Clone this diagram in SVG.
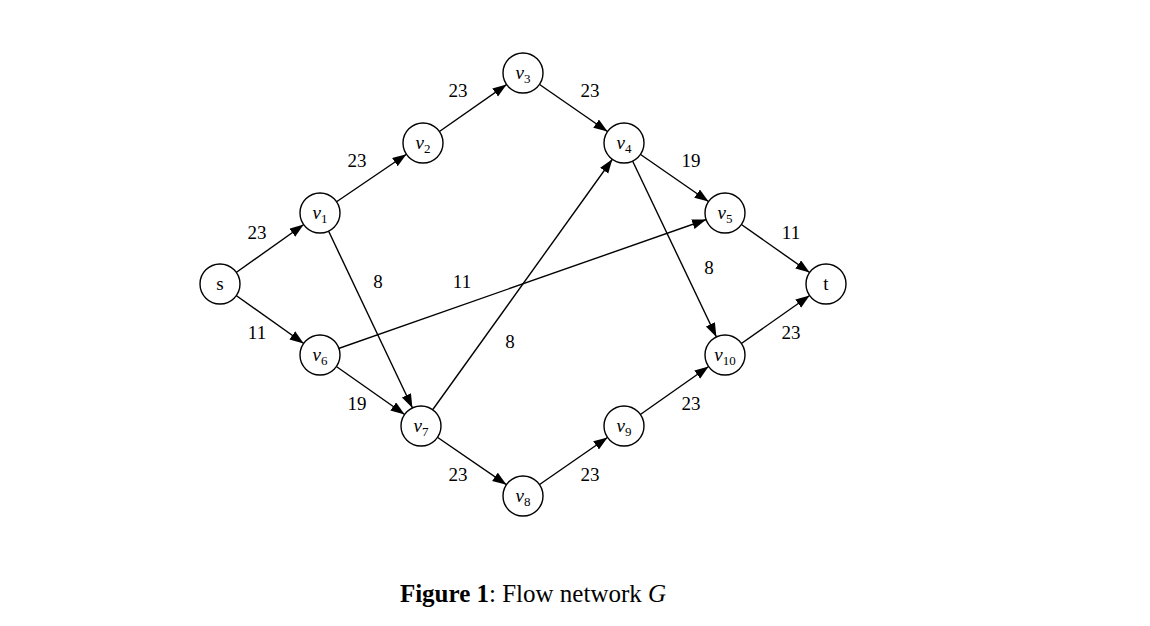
<svg xmlns="http://www.w3.org/2000/svg" width="1150" height="626" viewBox="0 0 1150 626">
<style>
.n circle{fill:#fff;stroke:#000;stroke-width:1.4}
.n text{font-family:"Liberation Serif",serif;font-size:19px;text-anchor:middle}
.v{font-style:italic}
.s{font-size:13px;font-style:normal}
#edges line{stroke:#000;stroke-width:1.4;marker-end:url(#a)}
.l{font-family:"Liberation Serif",serif;font-size:19px;text-anchor:middle}
</style>
<defs><marker id="a" markerUnits="userSpaceOnUse" markerWidth="40" markerHeight="12" refX="34" refY="5" orient="auto"><path d="M0,0 L14,5 L0,10 z"/></marker></defs>
<rect width="1150" height="626" fill="#fff"/>
<g id="edges">
<line x1="220" y1="284" x2="320" y2="213"/>
<line x1="220" y1="284" x2="320" y2="355"/>
<line x1="320" y1="213" x2="423" y2="143"/>
<line x1="320" y1="213" x2="421" y2="426"/>
<line x1="423" y1="143" x2="523" y2="73"/>
<line x1="523" y1="73" x2="624" y2="143"/>
<line x1="624" y1="143" x2="725" y2="213"/>
<line x1="624" y1="143" x2="725" y2="355"/>
<line x1="725" y1="213" x2="826" y2="284"/>
<line x1="320" y1="355" x2="725" y2="213"/>
<line x1="320" y1="355" x2="421" y2="426"/>
<line x1="421" y1="426" x2="624" y2="143"/>
<line x1="421" y1="426" x2="523" y2="496"/>
<line x1="523" y1="496" x2="624" y2="426"/>
<line x1="624" y1="426" x2="725" y2="355"/>
<line x1="725" y1="355" x2="826" y2="284"/>
</g>
<g id="labels" class="l">
<text x="257" y="239">23</text><text x="257" y="339">11</text>
<text x="357" y="167">23</text><text x="378" y="288">8</text>
<text x="458" y="97">23</text><text x="590" y="97">23</text>
<text x="691" y="167">19</text><text x="709" y="274">8</text>
<text x="791" y="239">11</text><text x="462" y="288">11</text>
<text x="357" y="410">19</text><text x="510" y="348">8</text>
<text x="458" y="481">23</text><text x="590" y="481">23</text>
<text x="691" y="410">23</text><text x="791" y="339">23</text>
</g>
<g id="s" class="n"><circle cx="220" cy="284" r="20"/><text x="220" y="290">s</text></g>
<g id="v1" class="n"><circle cx="320" cy="213" r="20"/><text x="320" y="219"><tspan class="v">v</tspan><tspan class="s" dy="4">1</tspan></text></g>
<g id="v2" class="n"><circle cx="423" cy="143" r="20"/><text x="423" y="149"><tspan class="v">v</tspan><tspan class="s" dy="4">2</tspan></text></g>
<g id="v3" class="n"><circle cx="523" cy="73" r="20"/><text x="523" y="79"><tspan class="v">v</tspan><tspan class="s" dy="4">3</tspan></text></g>
<g id="v4" class="n"><circle cx="624" cy="143" r="20"/><text x="624" y="149"><tspan class="v">v</tspan><tspan class="s" dy="4">4</tspan></text></g>
<g id="v5" class="n"><circle cx="725" cy="213" r="20"/><text x="725" y="219"><tspan class="v">v</tspan><tspan class="s" dy="4">5</tspan></text></g>
<g id="t" class="n"><circle cx="826" cy="284" r="20"/><text x="826" y="290">t</text></g>
<g id="v6" class="n"><circle cx="320" cy="355" r="20"/><text x="320" y="361"><tspan class="v">v</tspan><tspan class="s" dy="4">6</tspan></text></g>
<g id="v7" class="n"><circle cx="421" cy="426" r="20"/><text x="421" y="432"><tspan class="v">v</tspan><tspan class="s" dy="4">7</tspan></text></g>
<g id="v8" class="n"><circle cx="523" cy="496" r="20"/><text x="523" y="502"><tspan class="v">v</tspan><tspan class="s" dy="4">8</tspan></text></g>
<g id="v9" class="n"><circle cx="624" cy="426" r="20"/><text x="624" y="432"><tspan class="v">v</tspan><tspan class="s" dy="4">9</tspan></text></g>
<g id="v10" class="n"><circle cx="725" cy="355" r="20"/><text x="725" y="361"><tspan class="v">v</tspan><tspan class="s" dy="4">10</tspan></text></g>
<text x="533" y="602" font-family="Liberation Serif,serif" font-size="25" text-anchor="middle"><tspan font-weight="bold">Figure 1</tspan>: Flow network <tspan font-style="italic">G</tspan></text>
</svg>
